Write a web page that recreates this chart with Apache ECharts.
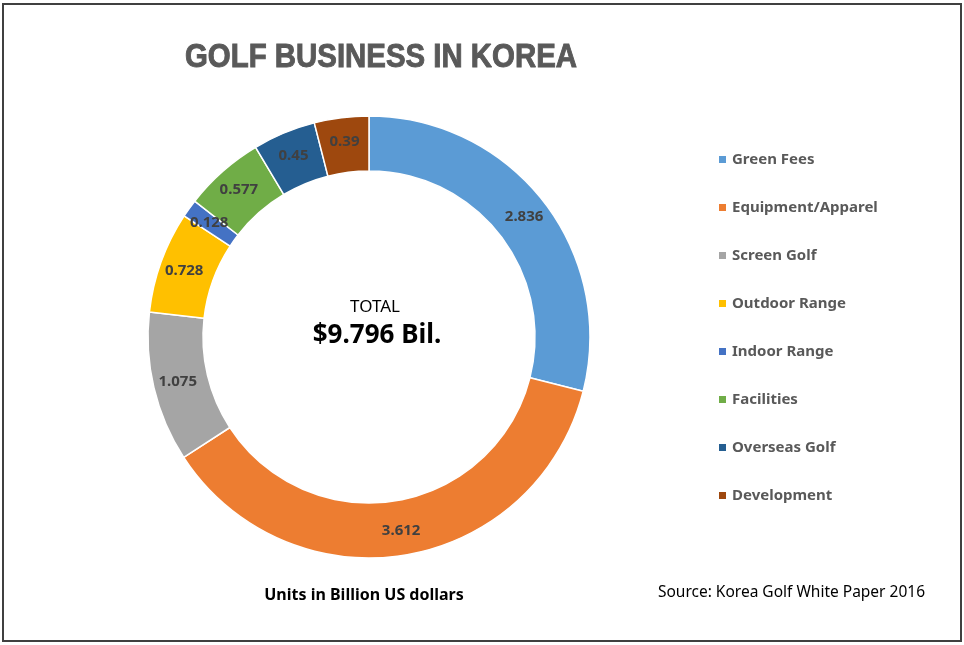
<!DOCTYPE html>
<html lang="en">
<head>
    <meta charset="UTF-8">
    <title>Golf Business in Korea</title>
    <script src="https://cdn.jsdelivr.net/npm/echarts/dist/echarts.min.js"></script>
    <style>
        html, body { margin: 0; padding: 0; background: #fff; }
        #chart { width: 964px; height: 645px; }
    </style>
</head>
<body>
    <div id="chart"></div>
    <script>
        // Data (billion US dollars)
        var categories = ['Green Fees', 'Equipment/Apparel', 'Screen Golf', 'Outdoor Range',
                          'Indoor Range', 'Facilities', 'Overseas Golf', 'Development'];
        var values = [2.836, 3.612, 1.075, 0.728, 0.128, 0.577, 0.45, 0.39];
        var colors = ['#5B9BD5', '#ED7D31', '#A5A5A5', '#FFC000', '#4472C4', '#70AD47', '#255E91', '#9E480E'];

        var total = values.reduce(function (a, b) { return a + b; }, 0);

        var pieData = categories.map(function (name, i) {
            return { name: name, value: values[i], itemStyle: { color: colors[i] } };
        });

        var myChart = echarts.init(document.getElementById('chart'));

        var option = {
            animation: false,
            legend: {
                orient: 'vertical',
                left: 712,
                top: 147,
                itemWidth: 9,
                itemHeight: 9,
                itemGap: 33,
                icon: 'rect',
                textStyle: {
                    fontFamily: 'Noto Sans',
                    fontWeight: 'bold',
                    fontSize: 15,
                    color: '#595959'
                },
                data: categories
            },
            series: [{
                type: 'pie',
                center: [369, 337],
                radius: [166, 221],
                startAngle: 90,
                clockwise: true,
                avoidLabelOverlap: false,
                itemStyle: {
                    borderColor: '#fff',
                    borderWidth: 1.5
                },
                label: {
                    show: true,
                    position: 'inside',
                    formatter: '{c}',
                    fontFamily: 'Noto Sans',
                    fontWeight: 'bold',
                    fontSize: 15,
                    color: '#404040'
                },
                labelLine: { show: false },
                emphasis: { disabled: true },
                data: pieData
            }],
            graphic: [
                {
                    type: 'rect',
                    shape: { x: 3, y: 4, width: 958, height: 637 },
                    style: { fill: 'none', stroke: '#404040', lineWidth: 2 },
                    silent: true
                },
                {
                    // title, stretched a bit to mimic the condensed heavy face
                    type: 'text',
                    x: 185, y: 58,
                    scaleX: 1.05, scaleY: 1.18,
                    style: {
                        text: 'GOLF BUSINESS IN KOREA',
                        align: 'left', verticalAlign: 'middle',
                        fontFamily: 'Liberation Sans', fontWeight: 'bold', fontSize: 28,
                        fill: '#595959', stroke: '#595959', lineWidth: 0.8
                    }
                },
                {
                    type: 'text',
                    x: 375, y: 307,
                    style: {
                        text: 'TOTAL',
                        align: 'center', verticalAlign: 'middle',
                        fontFamily: 'Noto Sans', fontSize: 17, fill: '#000'
                    }
                },
                {
                    type: 'text',
                    x: 377, y: 336,
                    style: {
                        text: '$' + total.toFixed(3) + ' Bil.',
                        align: 'center', verticalAlign: 'middle',
                        fontFamily: 'Noto Sans', fontWeight: 'bold', fontSize: 26, fill: '#000'
                    }
                },
                {
                    type: 'text',
                    x: 364, y: 595,
                    style: {
                        text: 'Units in Billion US dollars',
                        align: 'center', verticalAlign: 'middle',
                        fontFamily: 'Noto Sans', fontWeight: 'bold', fontSize: 16, fill: '#000'
                    }
                },
                {
                    type: 'text',
                    x: 925, y: 593,
                    style: {
                        text: 'Source: Korea Golf White Paper 2016',
                        align: 'right', verticalAlign: 'middle',
                        fontFamily: 'Noto Sans', fontSize: 15.5, fill: '#000'
                    }
                }
            ]
        };

        myChart.setOption(option);
    </script>
</body>
</html>
